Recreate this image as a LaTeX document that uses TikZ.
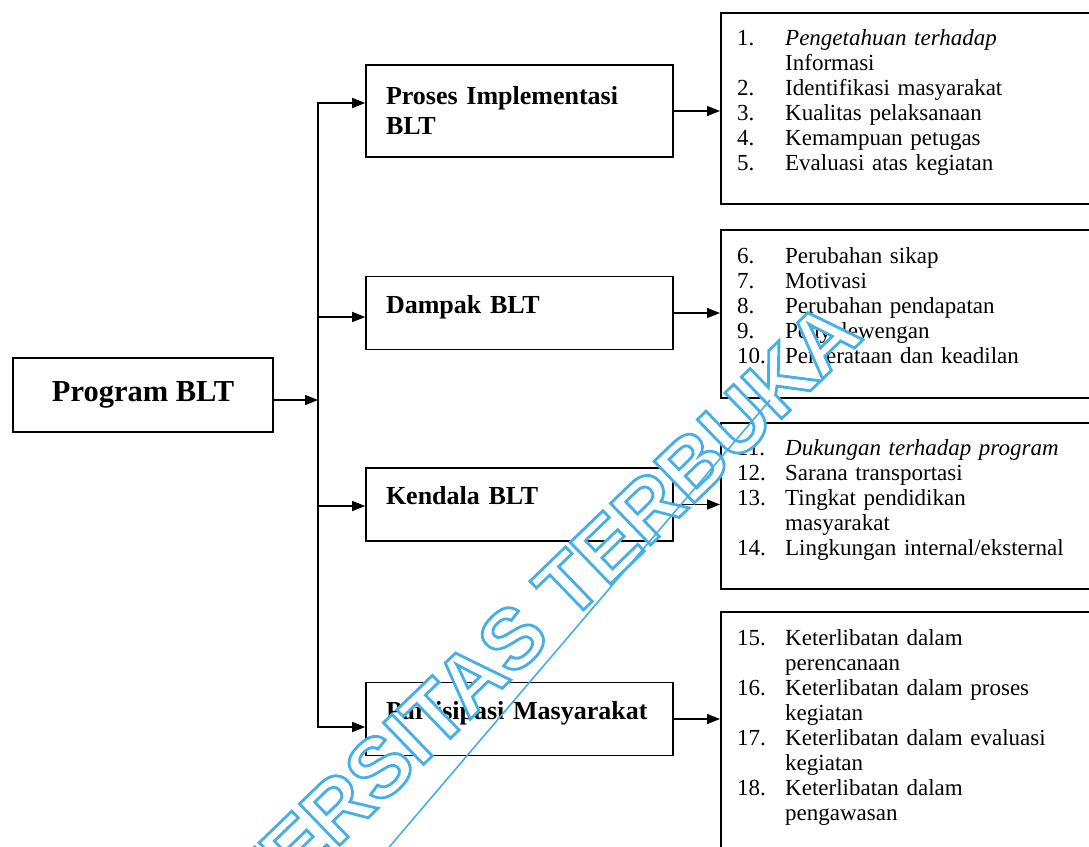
\documentclass[tikz,border=0pt]{standalone}
\usepackage{fontspec}
\setmainfont{Liberation Serif}
\newfontfamily\wmfont{Liberation Sans}
\usetikzlibrary{arrows.meta,calc}
\definecolor{wmblue}{RGB}{70,175,230}
\newcommand{\itm}[2]{\makebox[48pt][l]{#1}#2}
\newcommand{\cnt}[1]{\hspace*{48pt}#1}
\tikzset{
  box/.style={draw, line width=1.6pt, rectangle, inner sep=0pt},
  lbox/.style={box, minimum width=307pt, minimum height=73pt, text width=267pt, align=left,
    font=\fontsize{26}{30}\selectfont\bfseries},
  onel/.style={text height=18pt, text depth=18pt},
  rbox/.style={box, minimum width=380pt, anchor=north west},
  rtext/.style={anchor=north west, inner sep=0pt, text width=350pt, align=left,
    font=\fontsize{23}{25}\selectfont},
  arr/.style={line width=1.6pt, -{Triangle[length=13pt,width=10pt]}},
  biarr/.style={line width=1.6pt, {Triangle[length=13pt,width=10pt]}-{Triangle[length=13pt,width=10pt]}},
}
\begin{document}
\begin{tikzpicture}[x=1pt,y=-1pt]
\useasboundingbox (0,0) rectangle (1089,846);
\clip (0,0) rectangle (1089,846);
\fill[white] (0,0) rectangle (1089,846);

% main box
\node[box, minimum width=260pt, minimum height=74pt, font=\fontsize{30.5}{34}\selectfont\bfseries] (p) at (143,395) {Program BLT};

% left boxes
\node[lbox, minimum height=92pt] (a) at (519.5,111) {Proses Implementasi\\BLT};
\node[lbox, onel] (b) at (519.5,313) {Dampak BLT};
\node[lbox, onel] (c) at (519.5,504.5) {Kendala BLT};
\node[lbox, onel] (d) at (519.5,719) {Partisipasi Masyarakat};

% right boxes
\node[rbox, minimum height=191pt] (r1) at (720,12) {};
\node[rbox, minimum height=168pt] (r2) at (720,229) {};
\node[rbox, minimum height=166pt] (r3) at (720,422) {};
\node[rbox, minimum height=260pt] (r4) at (720,611) {};

\node[rtext] (t1) at (737,27.5) {\strut\itm{1.}{\textit{Pengetahuan terhadap}}\\
  \cnt{Informasi}\\
  \itm{2.}{Identifikasi masyarakat}\\
  \itm{3.}{Kualitas pelaksanaan}\\
  \itm{4.}{Kemampuan petugas}\\
  \itm{5.}{Evaluasi atas kegiatan}};
\node[rtext] (t2) at (737,245.5) {\strut\itm{6.}{Perubahan sikap}\\
  \itm{7.}{Motivasi}\\
  \itm{8.}{Perubahan pendapatan}\\
  \itm{9.}{Penyelewengan}\\
  \itm{10.}{Pemerataan dan keadilan}};
\node[rtext] (t3) at (737,437.5) {\strut\itm{11.}{\textit{Dukungan terhadap program}}\\
  \itm{12.}{Sarana transportasi}\\
  \itm{13.}{Tingkat pendidikan}\\
  \cnt{masyarakat}\\
  \itm{14.}{Lingkungan internal/eksternal}};
\node[rtext] (t4) at (737,627.5) {\strut\itm{15.}{Keterlibatan dalam}\\
  \cnt{perencanaan}\\
  \itm{16.}{Keterlibatan dalam proses}\\
  \cnt{kegiatan}\\
  \itm{17.}{Keterlibatan dalam evaluasi}\\
  \cnt{kegiatan}\\
  \itm{18.}{Keterlibatan dalam}\\
  \cnt{pengawasan}};

% connectors
\coordinate (tp) at (318,400);
\coordinate (ta) at (318,103);
\coordinate (tb) at (318,317);
\coordinate (tc) at (318,506);
\coordinate (td) at (318,727);
\draw[arr] (p.east |- tp) -- (tp);
\draw[biarr] (ta -| a.west) -- (ta) -- (td) -- (td -| d.west);
\draw[arr] (tb) -- (tb -| b.west);
\draw[arr] (tc) -- (tc -| c.west);
\draw[arr] (a.east) -- (a.east -| r1.west);
\draw[arr] (b.east) -- (b.east -| r2.west);
\draw[arr] (c.east) -- (c.east -| r3.west);
\draw[arr] (d.east) -- (d.east -| r4.west);

% watermark
\node[rotate=44, anchor=base east, inner sep=0pt, font=\wmfont\bfseries\fontsize{84}{84}\selectfont] (wm) at (865,338)
  {\color{wmblue}\special{pdf:literal direct 2 Tr 2.8 w 1 1 1 rg}UNIVERSITAS TERBUKA};
\coordinate (wl1) at (385,852);
\coordinate (wl2) at (770,400);
\draw[wmblue, line width=1.6pt] (wl1) -- (wl2);
\end{tikzpicture}
\end{document}
